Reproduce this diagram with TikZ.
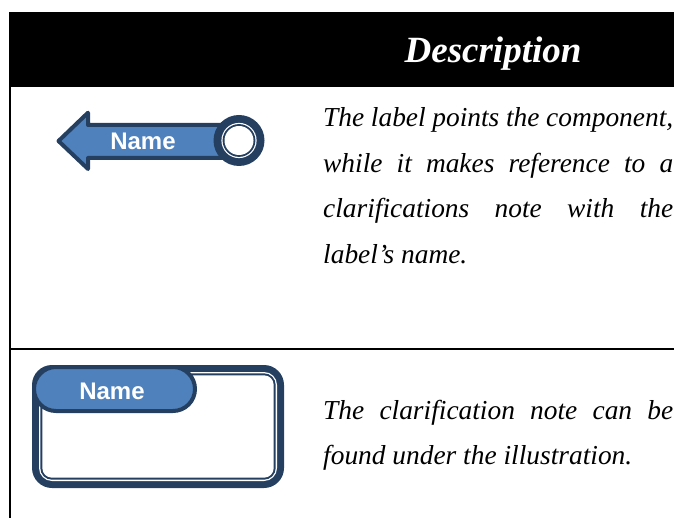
\documentclass[tikz,border=0pt]{standalone}
\usepackage{fontspec}
\setmainfont{Liberation Serif}
\newfontfamily\tagfont{Liberation Sans}
\usepackage{tikz}
\definecolor{tagblue}{HTML}{4F81BD}
\definecolor{tagnavy}{HTML}{243F60}
\tikzset{
	tagname/.style={text=white, font=\tagfont\bfseries\fontsize{24}{24}\selectfont, inner sep=0pt, anchor=base},
	desctext/.style={font=\itshape\fontsize{27.4}{45.6}\selectfont, text width=350pt, align=justify, inner sep=0pt, anchor=base west},
}

\begin{document}
\begin{tikzpicture}[x=1pt,y=-1pt]
		%%%%% START %%%%%
		\useasboundingbox (0,0) rectangle (674,518);
		
		% header bar
		\fill[black] (9,12) rectangle (674,87);
		\node[text=white, font=\bfseries\itshape\fontsize{37}{37}\selectfont, inner sep=0pt, anchor=base] (title) at (493,62.7) {Description};
		\draw[line width=2pt] (10,87) -- (10,518);
		\draw[line width=2pt] (10,349) -- (674,349);
		
		% label arrow
		\draw[fill=tagblue, draw=tagnavy, line width=4pt, line join=round] (58.5,141) -- (88,112.7) -- (88,125) -- (239,125) -- (239,158) -- (88,158) -- (88,169) -- cycle;
		\fill[tagnavy] (239,140.5) circle (25.5);
		\fill[white] (239,140.5) circle (17.6);
		\fill[tagnavy] (239,140.5) circle (16.4);
		\fill[white] (239,140.5) circle (14.5);
		\node[tagname] (arrowname) at (143,150) {Name};
		
		\node[desctext] (labeltext) at (323,126.7) {The label points the component,\linebreak while it makes reference to a\linebreak clarifications note with the\linebreak label’s name.};
		
		% clarification note
		\fill[tagnavy, rounded corners=20] (32,365) rectangle (284,488);
		\fill[white, rounded corners=13] (39,372) rectangle (277,481);
		\fill[tagnavy, rounded corners=11.7] (40.3,373.3) rectangle (275.7,479.7);
		\fill[white, rounded corners=9.7] (42.3,375.3) rectangle (273.7,477.7);
		\draw[fill=tagblue, draw=tagnavy, line width=4pt, rounded corners=22] (34,367) rectangle (195,411);
		\node[tagname] (notename) at (112,399) {Name};
		
		\node[desctext] (notetext) at (323,419.3) {The clarification note can be\linebreak found under the illustration.};
		
		%%%%% END %%%%%
\end{tikzpicture}
\end{document}
